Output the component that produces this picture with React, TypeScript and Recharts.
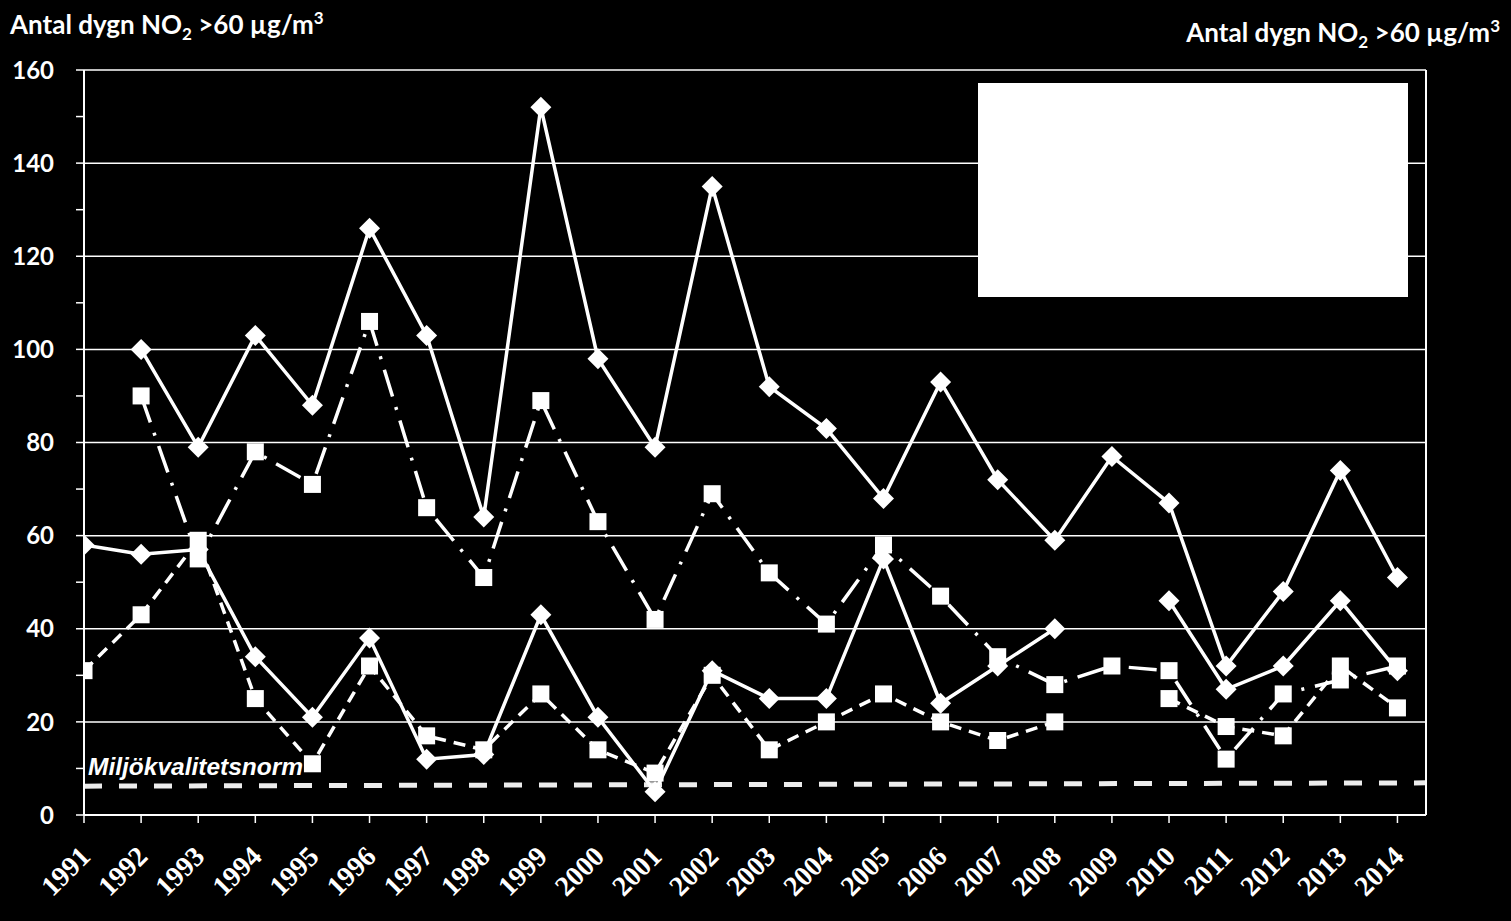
import { CartesianGrid, Line, LineChart, ReferenceLine, XAxis, YAxis } from "recharts";

document.body.style.margin = "0";
document.body.style.background = "#000";

const YEARS = [
  1991, 1992, 1993, 1994, 1995, 1996, 1997, 1998, 1999, 2000, 2001, 2002,
  2003, 2004, 2005, 2006, 2007, 2008, 2009, 2010, 2011, 2012, 2013, 2014,
];
const UPPER_SOLID = [
  null, 100, 79, 103, 88, 126, 103, 64, 152, 98, 79, 135,
  92, 83, 68, 93, 72, 59, 77, 67, 32, 48, 74, 51,
];
const UPPER_DASHDOT = [
  null, 90, 55, 78, 71, 106, 66, 51, 89, 63, 42, 69,
  52, 41, 58, 47, 34, 28, 32, 31, 12, 26, 29, 32,
];
const LOWER_SOLID = [
  58, 56, 57, 34, 21, 38, 12, 13, 43, 21, 5, 31,
  25, 25, 55, 24, 32, 40, null, 46, 27, 32, 46, 31,
];
const LOWER_DASHED = [
  31, 43, 59, 25, 11, 32, 17, 14, 26, 14, 9, 30,
  14, 20, 26, 20, 16, 20, null, 25, 19, 17, 32, 23,
];
const Y_TICKS = [0, 10, 20, 30, 40, 50, 60, 70, 80, 90, 100, 110, 120, 130, 140, 150, 160];
const Y_LABELS = [0, 20, 40, 60, 80, 100, 120, 140, 160];
// limit value line, slightly tilted in the original
const NORM_START = 6.2;
const NORM_END = 6.9;

const data = YEARS.map((year, i) => ({
  year,
  upperSolid: UPPER_SOLID[i],
  upperDashDot: UPPER_DASHDOT[i],
  lowerSolid: LOWER_SOLID[i],
  lowerDashed: LOWER_DASHED[i],
}));

const LABEL_FONT = "Lato, 'Open Sans', sans-serif";

function Diamond(props: any) {
  const { cx, cy, index } = props;
  if (cx == null || cy == null) return <g key={index} />;
  const r = 10.5;
  return (
    <path
      key={index}
      d={`M${cx},${cy - r}L${cx + r},${cy}L${cx},${cy + r}L${cx - r},${cy}Z`}
      fill="#fff"
    />
  );
}

function Square(props: any) {
  const { cx, cy, index } = props;
  if (cx == null || cy == null) return <g key={index} />;
  const s = 8.5;
  return <rect key={index} x={cx - s} y={cy - s} width={s * 2} height={s * 2} fill="#fff" />;
}

function YearTick({ x, y, payload }: any) {
  const ax = x + 8;
  const ay = y + 35;
  return (
    <text
      x={ax}
      y={ay}
      transform={`rotate(-45 ${ax} ${ay})`}
      textAnchor="end"
      fill="#fff"
      fontFamily="'Liberation Serif', serif"
      fontWeight="bold"
      fontSize={28}
    >
      {payload.value}
    </text>
  );
}

function LeftTick({ x, y, payload }: any) {
  if (!Y_LABELS.includes(payload.value)) return <g />;
  return (
    <text x={x} y={y} dy="0.36em" textAnchor="end" fill="#fff" fontFamily={LABEL_FONT} fontWeight="bold" fontSize={24}>
      {payload.value}
    </text>
  );
}

function RightTick({ x, y, payload }: any) {
  return (
    <text x={x} y={y} dy="0.36em" textAnchor="start" fill="#fff" fontFamily={LABEL_FONT} fontWeight="bold" fontSize={24}>
      {payload.value}
    </text>
  );
}

function AxisTitle({ x, y, anchor }: { x: number; y: number; anchor: "start" | "end" }) {
  return (
    <text x={x} y={y} textAnchor={anchor} fill="#fff" fontFamily={LABEL_FONT} fontWeight="bold" fontSize={26}>
      Antal dygn NO
      <tspan dy={6} fontSize={17}>2</tspan>
      <tspan dy={-6}> &gt;60 µg/m</tspan>
      <tspan dy={-10} fontSize={17}>3</tspan>
    </text>
  );
}

export default function App() {
  return (
    <div style={{ position: "relative", width: 1511, height: 921, background: "#000" }}>
      <LineChart width={1511} height={921} data={data} margin={{ top: 70, right: 0, bottom: 0, left: 0 }}>
        <CartesianGrid
          yAxisId="left"
          vertical={false}
          horizontalValues={[20, 40, 60, 80, 100, 120, 140, 160]}
          stroke="#fff"
          strokeWidth={1.5}
        />
        <XAxis
          dataKey="year"
          type="number"
          domain={[1991, 2014.5]}
          ticks={YEARS}
          allowDataOverflow
          height={106}
          tick={<YearTick />}
          tickSize={8}
          tickMargin={0}
          interval={0}
          axisLine={{ stroke: "#fff", strokeWidth: 2 }}
          tickLine={{ stroke: "#fff", strokeWidth: 1.5 }}
        />
        <YAxis
          yAxisId="left"
          domain={[0, 160]}
          ticks={Y_TICKS}
          interval={0}
          width={84}
          tickSize={8}
          tickMargin={22}
          tick={<LeftTick />}
          axisLine={{ stroke: "#fff", strokeWidth: 2 }}
          tickLine={{ stroke: "#fff", strokeWidth: 1.5 }}
        />
        <YAxis
          yAxisId="right"
          orientation="right"
          domain={[0, 160]}
          ticks={Y_LABELS}
          interval={0}
          width={85}
          tickSize={10}
          tickMargin={18}
          tick={<RightTick />}
          axisLine={{ stroke: "#fff", strokeWidth: 2 }}
          tickLine={{ stroke: "#fff", strokeWidth: 1.5 }}
        />
        <ReferenceLine
          yAxisId="left"
          segment={[
            { x: 1991, y: NORM_START },
            { x: 2014.5, y: NORM_END },
          ]}
          stroke="#ececec"
          strokeWidth={5}
          strokeDasharray="18 17"
          ifOverflow="visible"
        />
        <Line
          yAxisId="left"
          dataKey="upperSolid"
          stroke="#fff"
          strokeWidth={3.5}
          dot={Diamond}
          isAnimationActive={false}
        />
        <Line
          yAxisId="left"
          dataKey="upperDashDot"
          stroke="#fff"
          strokeWidth={3.5}
          strokeDasharray="28 11 3 11"
          dot={Square}
          isAnimationActive={false}
        />
        <Line
          yAxisId="left"
          dataKey="lowerSolid"
          stroke="#fff"
          strokeWidth={3.5}
          dot={Diamond}
          isAnimationActive={false}
        />
        <Line
          yAxisId="left"
          dataKey="lowerDashed"
          stroke="#fff"
          strokeWidth={3.5}
          strokeDasharray="12 8"
          dot={Square}
          isAnimationActive={false}
        />
      </LineChart>
      <svg
        width={1511}
        height={921}
        style={{ position: "absolute", left: 0, top: 0, pointerEvents: "none" }}
      >
        <rect x={978} y={83} width={430} height={214} fill="#fff" />
        <AxisTitle x={10} y={34} anchor="start" />
        <AxisTitle x={1500} y={42} anchor="end" />
        <text
          x={88}
          y={775}
          fill="#fff"
          fontFamily="'Liberation Sans', Arial, sans-serif"
          fontStyle="italic"
          fontWeight="bold"
          fontSize={24.5}
        >
          Miljökvalitetsnorm
        </text>
      </svg>
    </div>
  );
}
